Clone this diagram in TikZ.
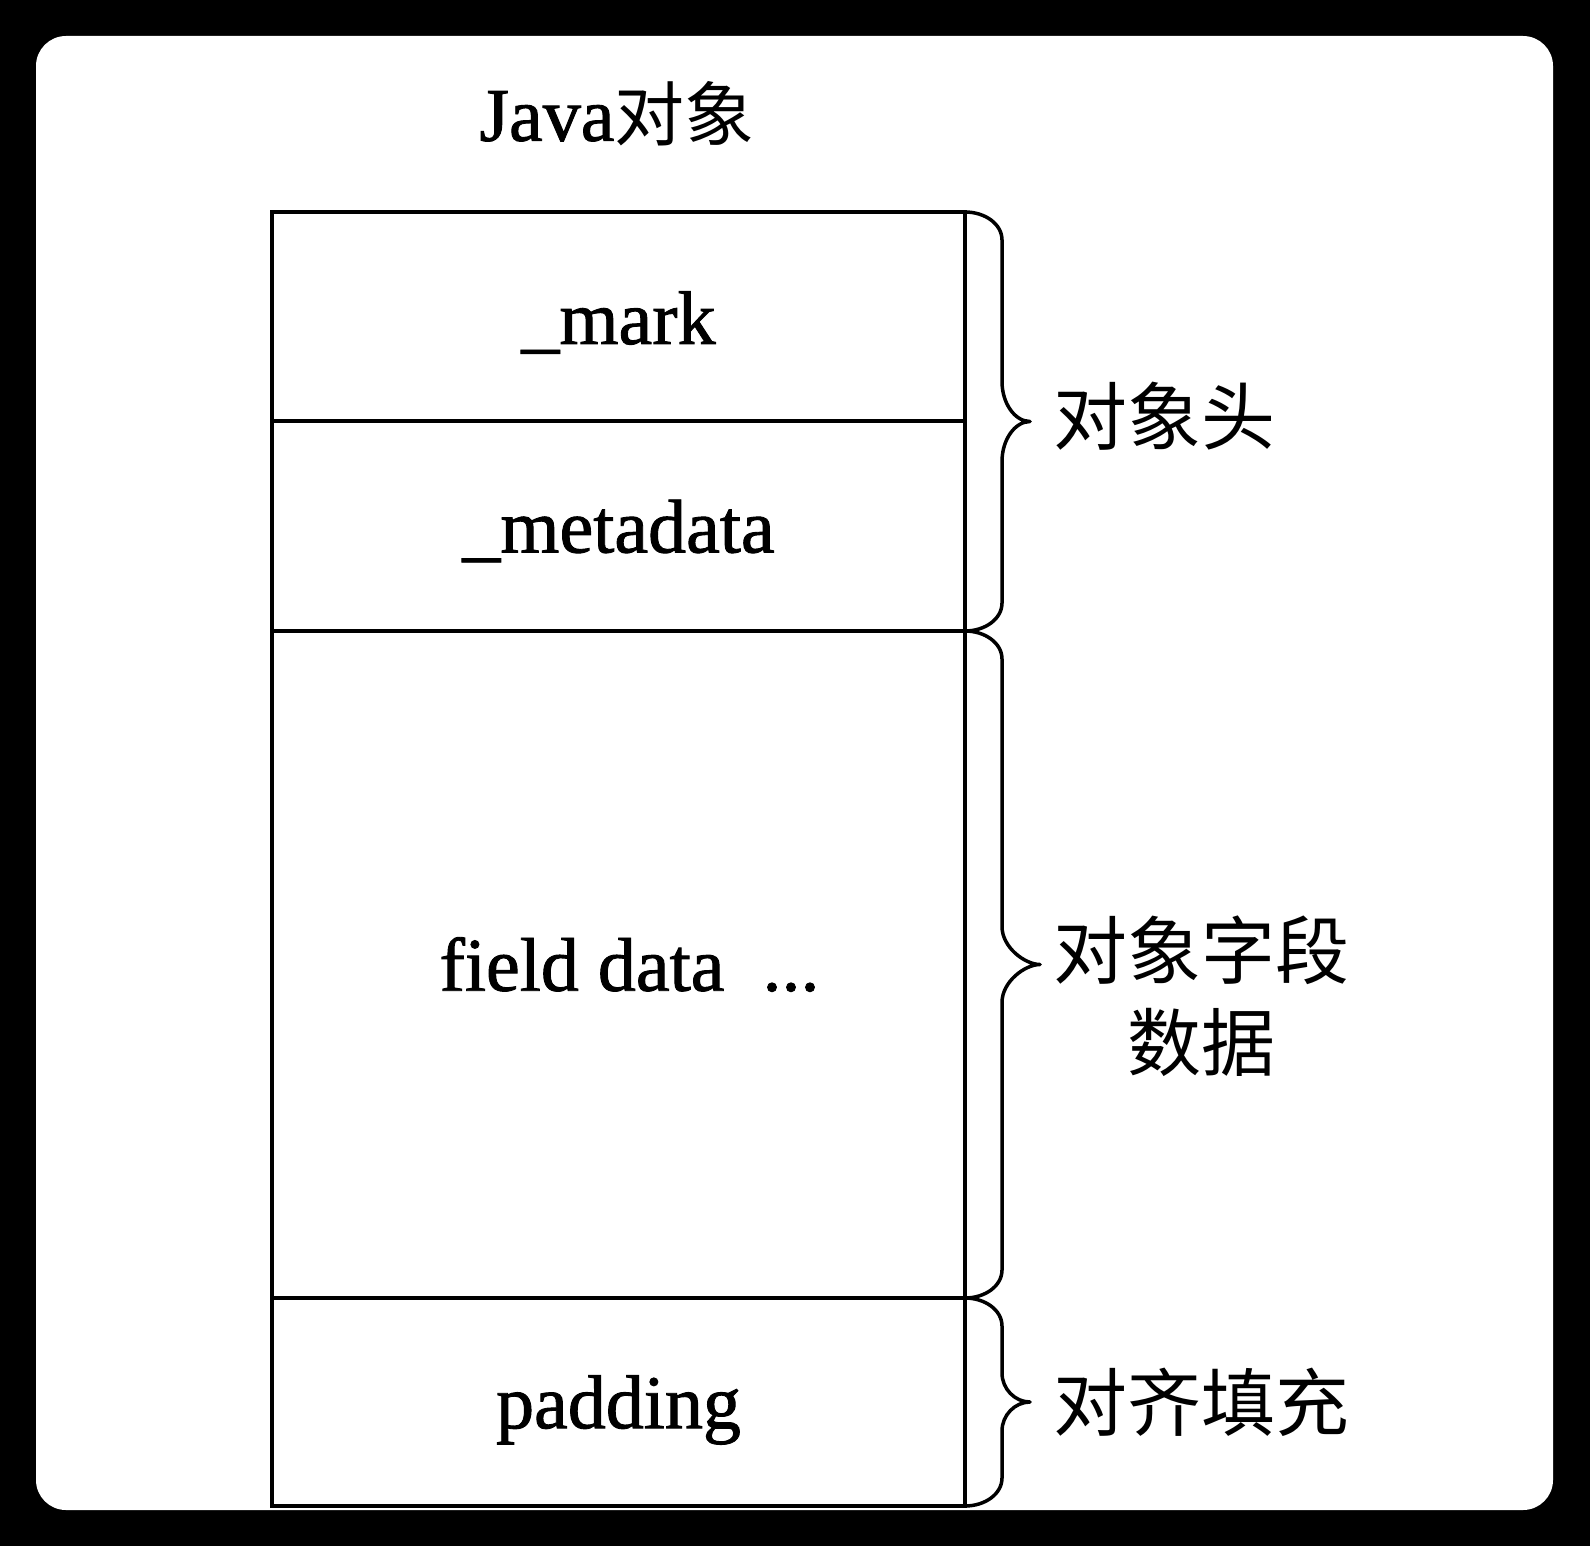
\documentclass[tikz,border=0pt]{standalone}
\usepackage{fontspec}
\setmainfont{Liberation Serif}[FakeBold=1.2]
\newfontfamily\cjk{Noto Sans CJK SC}
\newcommand\mybrace[4]{%
  \draw[bracestyle] (965,#1) .. controls (985,#1) and (1002,{#1+12}) .. (1002,{#1+28})
   -- (1002,{(#1+#2)/2-#4}) .. controls (1002,{(#1+#2)/2-#4*0.45}) and ({#3-15},{(#1+#2)/2}) .. (#3,{(#1+#2)/2})
   .. controls ({#3-15},{(#1+#2)/2}) and (1002,{(#1+#2)/2+#4*0.45}) .. (1002,{(#1+#2)/2+#4})
   -- (1002,{#2-28}) .. controls (1002,{#2-12}) and (985,#2) .. (965,#2);}
\begin{document}
\begin{tikzpicture}[x=1pt,y=-1pt,
  cell/.style={draw=black, line width=4pt, minimum width=693pt, inner sep=0pt},
  txt/.style={inner sep=0pt, font=\fontsize{76pt}{90pt}\selectfont},
  bracestyle/.style={draw=black, line width=3.5pt, line join=round, line cap=round},
  lbl/.style={inner sep=0pt, font=\cjk\fontsize{74pt}{92pt}\selectfont, anchor=west}]
\fill[black] (0,0) rectangle (1590,1546);
\fill[white, rounded corners=30pt] (36,36) rectangle (1553,1510);
\useasboundingbox (0,0) rectangle (1590,1546);

\node[txt] (title) at (617,114)
  {Java{\cjk\fontsize{70pt}{90pt}\selectfont 对象}};

\node[cell, minimum height=209pt] (mark) at (618.5,316.5) {};
\node[cell, minimum height=210pt] (meta) at (618.5,526) {};
\node[cell, minimum height=667pt] (field) at (618.5,964.5) {};
\node[cell, minimum height=208pt] (pad) at (618.5,1402) {};

\node[txt] (markt) at ([yshift=-6pt]mark.center) {\_mark};
\node[txt] (metat) at ([yshift=-5pt]meta.center) {\_metadata};
\node[txt] (fieldt) at ([xshift=11pt]field.center) {field data\ \ ...};
\node[txt] (padt) at ([yshift=-8pt]pad.center) {padding};

\mybrace{212}{631}{1030}{40}
\mybrace{631}{1298}{1040}{38}
\mybrace{1298}{1506}{1030}{29}

\node[lbl] (hdr) at (1053,416) {对象头};
\node[lbl, align=center] (fld) at (1053,996) {对象字段\\数据};
\node[lbl] (padl) at (1053,1402) {对齐填充};
\end{tikzpicture}
\end{document}
